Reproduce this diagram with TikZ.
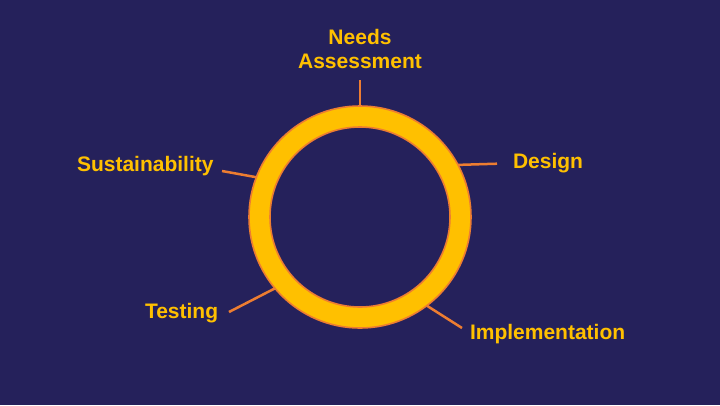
\documentclass[tikz,border=0pt]{standalone}
\usepackage{fontspec}
\setmainfont{Liberation Sans}
\definecolor{bgnavy}{HTML}{25215B}
\definecolor{ringyellow}{HTML}{FFC000}
\definecolor{lineorange}{HTML}{ED7D31}
\begin{document}
\begin{tikzpicture}[x=1pt,y=-1pt,
  lbl/.style={text=ringyellow, font=\fontsize{21}{24}\selectfont\bfseries, inner sep=0pt, outer sep=0pt},
  conn/.style={draw=lineorange, line width=2.5pt}]
\fill[bgnavy] (0,0) rectangle (720,405);
\useasboundingbox (0,0) rectangle (720,405);
% ring
\node[circle, minimum size=222pt, inner sep=0pt, outer sep=0pt] (ring) at (360,217) {};
\path[fill=ringyellow, draw=lineorange, line width=1.6pt, even odd rule]
  (360,217) circle[radius=111] (360,217) circle[radius=90];
% labels
\node[lbl, align=center, anchor=south] (needs) at (360,69) {Needs\\Assessment};
\node[lbl, anchor=base west] (design) at (513,168) {Design};
\node[lbl, anchor=base west] (impl) at (470,339) {Implementation};
\node[lbl, anchor=base west] (test) at (145,318) {Testing};
\node[lbl, anchor=base west] (sust) at (77,171) {Sustainability};
% connector ends
\coordinate (cN) at (360,80);
\coordinate (cD) at (497,163.7);
\coordinate (cI) at (462,328);
\coordinate (cT) at (229,312);
\coordinate (cS) at (222,171);
\draw[conn] (ring.90) -- (cN);
\draw[conn] (ring.28.7) -- (cD);
\draw[conn] (ring.307.6) -- (cI);
\draw[conn] (ring.220.3) -- (cT);
\draw[conn] (ring.159.4) -- (cS);
\end{tikzpicture}
\end{document}
